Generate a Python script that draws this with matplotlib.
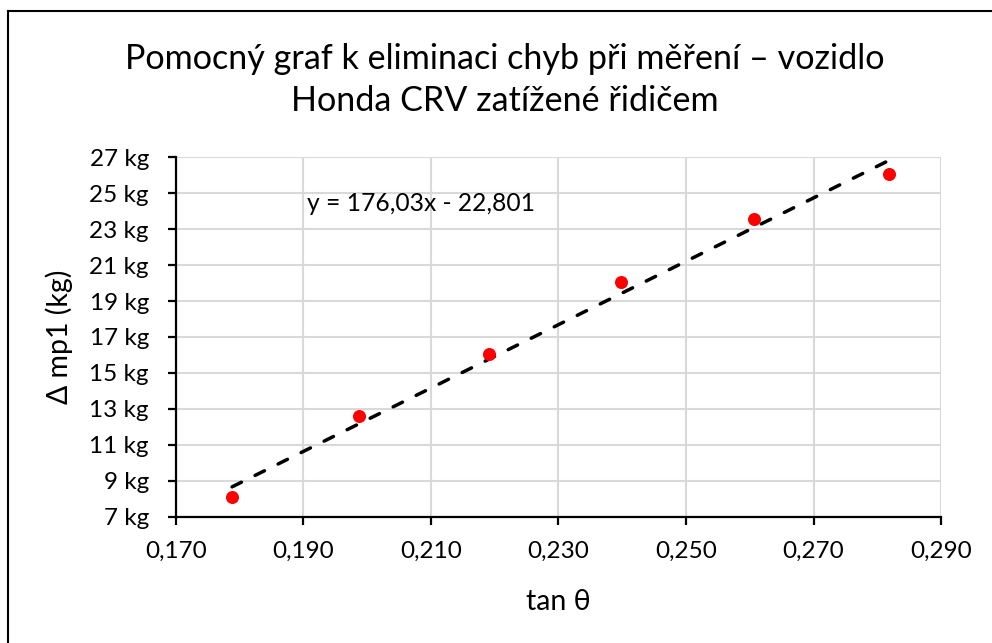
import matplotlib.pyplot as plt
import numpy as np
from matplotlib.lines import Line2D
from matplotlib.ticker import FuncFormatter

plt.rcParams['font.family'] = ['Lato', 'DejaVu Sans']

# tan theta a rozdil hmotnosti (kg)
tan_theta = [0.1788, 0.1987, 0.2191, 0.2398, 0.2607, 0.2818]
delta_m = [8.1, 12.6, 16.05, 20.05, 23.55, 26.05]

# parametry trendu (Excel)
k = 176.03
q = -22.801

x_ticks = [0.170, 0.190, 0.210, 0.230, 0.250, 0.270, 0.290]
y_ticks = [7, 9, 11, 13, 15, 17, 19, 21, 23, 25, 27]

fig = plt.figure(figsize=(9.92, 6.43), dpi=100)
ax = fig.add_axes([0.1774, 0.1960, 0.7712, 0.5598])

# trend
xt = np.array([min(tan_theta), max(tan_theta)])
ax.plot(xt, k * xt + q, color='black', linestyle=(0, (3.0, 4.4)), linewidth=2.5,
        dash_capstyle='round', zorder=3)
ax.scatter(tan_theta, delta_m, s=88, color='#ff0000', zorder=4, linewidths=0)

ax.set_xlim(0.170, 0.290)
ax.set_ylim(7, 27)
ax.set_xticks(x_ticks)
ax.set_yticks(y_ticks)
ax.xaxis.set_major_formatter(FuncFormatter(lambda v, p: f'{v:.3f}'.replace('.', ',')))
ax.yaxis.set_major_formatter(FuncFormatter(lambda v, p: f'{v:.0f} kg'))

ax.grid(True, color='#d9d9d9', linewidth=1.5)
ax.set_axisbelow(True)
for s in ['top', 'right']:
    ax.spines[s].set_visible(False)
for s in ['left', 'bottom']:
    ax.spines[s].set_linewidth(1.6)
ax.tick_params(axis='both', direction='out', length=6, width=1.6, labelsize=17.5)
ax.tick_params(axis='x', pad=11)
ax.tick_params(axis='y', pad=13.5)

ax.set_xlabel('tan θ', fontsize=20.5, labelpad=19.5)
ax.set_ylabel('Δ mp1 (kg)', fontsize=20.5, labelpad=11.5)

ax.text(0.1905, 24.4, 'y = 176,03x - 22,801', fontsize=17.7, va='center', ha='left')

fig.text(0.509, 0.876, 'Pomocný graf k eliminaci chyb při měření – vozidlo\nHonda CRV zatížené řidičem',
         ha='center', va='center', fontsize=24.6, linespacing=1.38)

# ramecek grafu
fig.add_artist(Line2D([8 / 992, 8 / 992], [0, 1 - 11 / 643], color='black', linewidth=1.5))
fig.add_artist(Line2D([8 / 992, 1], [1 - 11 / 643, 1 - 11 / 643], color='black', linewidth=1.5))

fig.savefig('out.png', dpi=100)
